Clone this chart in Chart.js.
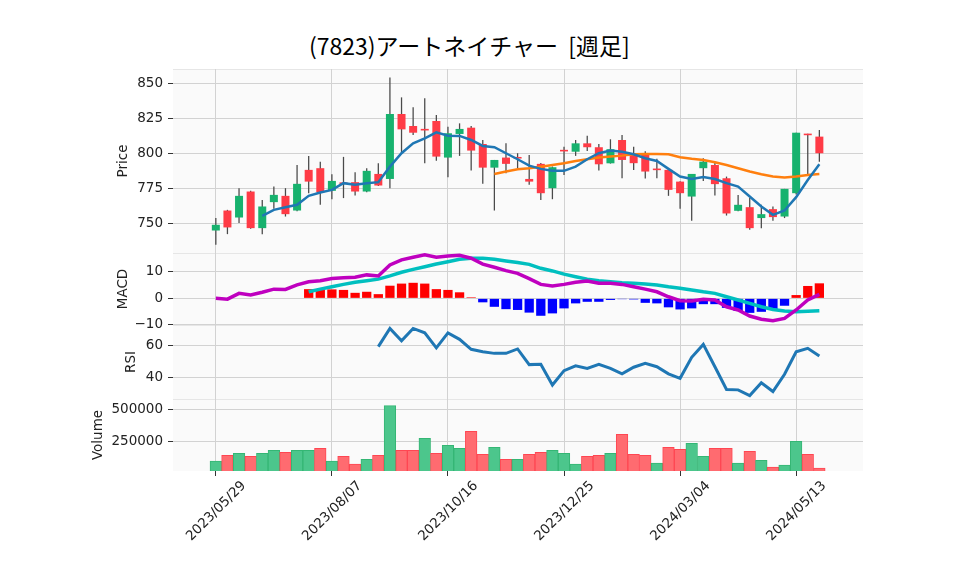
<!DOCTYPE html>
<html lang="ja">
<head>
<meta charset="utf-8">
<title>(7823)アートネイチャー [週足]</title>
<script src="https://cdn.jsdelivr.net/npm/chart.js@4.4.1/dist/chart.umd.min.js"></script>
<style>
  html, body { margin: 0; padding: 0; background: #fff; }
  body { position: relative; width: 958px; height: 575px; overflow: hidden; font-family: "Noto Sans CJK JP", sans-serif; }
  #titulo { position: absolute; left: 309px; top: 30px; line-height: 30px; font-size: 23px; white-space: pre; color: #000; }
</style>
</head>
<body>
<div id="titulo">(7823)アートネイチャー  [週足]</div>
<script>
// semanas (eixo x)
const dates = [
  '2023/05/29', '2023/06/05', '2023/06/12', '2023/06/19', '2023/06/26', '2023/07/03', '2023/07/10',
  '2023/07/17', '2023/07/24', '2023/07/31', '2023/08/07', '2023/08/14', '2023/08/21', '2023/08/28',
  '2023/09/04', '2023/09/11', '2023/09/18', '2023/09/25', '2023/10/02', '2023/10/09', '2023/10/16',
  '2023/10/23', '2023/10/30', '2023/11/06', '2023/11/13', '2023/11/20', '2023/11/27', '2023/12/04',
  '2023/12/11', '2023/12/18', '2023/12/25', '2024/01/01', '2024/01/08', '2024/01/15', '2024/01/22',
  '2024/01/29', '2024/02/05', '2024/02/12', '2024/02/19', '2024/02/26', '2024/03/04', '2024/03/11',
  '2024/03/18', '2024/03/25', '2024/04/01', '2024/04/08', '2024/04/15', '2024/04/22', '2024/04/29',
  '2024/05/06', '2024/05/13', '2024/05/20', '2024/05/27'
];

const opens = [
  744.7, 759.0, 754.0, 772.6, 746.4, 765.0, 769.5, 759.0, 788.1, 789.3,
  773.1, 778.6, 779.3, 772.6, 785.2, 781.6, 828.1, 819.5, 816.9, 823.1,
  796.9, 813.8, 818.3, 806.6, 789.7, 796.9, 796.8, 781.6, 792.4, 775.0,
  802.0, 801.1, 807.1, 804.3, 792.8, 809.5, 798.8, 799.0, 788.3, 788.1,
  779.7, 769.0, 789.3, 791.6, 782.1, 758.8, 761.4, 753.6, 760.0, 754.7,
  771.4, 813.6, 811.9
];
const highs = [
  753.6, 759.5, 775.0, 773.2, 766.6, 776.2, 775.0, 791.6, 798.1, 794.0,
  785.0, 797.4, 786.4, 789.3, 792.9, 854.3, 840.0, 832.9, 839.3, 827.4,
  819.0, 821.4, 819.5, 809.5, 795.2, 807.1, 800.0, 798.8, 793.0, 790.5,
  804.7, 809.5, 812.6, 806.6, 810.0, 813.0, 804.7, 801.5, 796.0, 788.5,
  780.0, 785.2, 796.4, 794.0, 783.3, 770.2, 767.9, 763.1, 761.9, 774.5,
  814.7, 814.0, 816.6
];
const lows = [
  734.5, 742.1, 750.0, 746.0, 742.1, 760.2, 754.7, 758.5, 771.4, 763.1,
  767.1, 767.9, 769.7, 772.0, 776.5, 775.0, 800.0, 813.0, 792.9, 794.7,
  782.9, 798.1, 787.6, 778.1, 759.0, 785.7, 789.3, 777.4, 766.6, 767.1,
  784.5, 798.1, 801.6, 787.6, 792.6, 782.1, 788.0, 782.0, 782.1, 769.5,
  760.2, 751.6, 780.2, 769.7, 755.4, 758.5, 745.2, 746.4, 751.6, 753.6,
  770.5, 784.0, 794.0
];
const closes = [
  748.8, 746.9, 769.5, 746.4, 761.9, 770.2, 756.4, 778.1, 779.7, 772.1,
  780.2, 778.0, 772.6, 787.4, 776.9, 828.1, 817.1, 814.7, 816.3, 797.6,
  814.3, 817.4, 801.9, 789.7, 795.2, 792.4, 796.2, 779.7, 771.4, 790.0,
  801.3, 807.1, 804.3, 792.1, 802.9, 795.2, 792.9, 786.9, 787.9, 773.8,
  771.4, 785.2, 794.0, 777.9, 756.9, 763.1, 746.4, 756.4, 754.3, 774.5,
  814.7, 812.9, 800.0
];

// médias móveis (5 e 25 semanas)
const ma5 = [
  null, null, null, null, 755.2, 759.5, 761.4, 763.1, 769.5, 771.9,
  773.8, 778.6, 777.4, 778.6, 779.3, 790.4, 800.0, 807.1, 810.7, 815.0,
  812.6, 812.4, 809.5, 805.2, 804.3, 800.0, 795.7, 791.1, 788.8, 787.4,
  787.4, 790.4, 795.7, 800.0, 801.9, 801.1, 799.3, 796.4, 794.5, 788.8,
  783.3, 781.6, 782.9, 781.6, 778.6, 776.1, 769.0, 761.9, 755.9, 759.0,
  768.6, 780.9, 792.1
];
const ma25 = [
  null, null, null, null, null, null, null, null, null, null,
  null, null, null, null, null, null, null, null, null, null,
  null, null, null, null, 785.2, 786.9, 788.6, 789.3, 790.4, 791.6,
  792.9, 794.5, 795.7, 796.9, 797.6, 798.3, 799.3, 799.5, 799.5, 799.3,
  797.1, 796.0, 795.2, 793.6, 791.6, 789.3, 786.9, 785.0, 783.3, 782.6,
  783.3, 784.5, 785.2
];

// MACD
const macdLine = [
  0.0, -0.3, 1.9, 1.25, 2.3, 3.5, 3.4, 5.1, 6.3, 6.7,
  7.5, 7.8, 8.0, 8.9, 8.5, 12.7, 14.6, 15.6, 16.5, 15.6,
  16.1, 16.3, 15.2, 13.0, 11.8, 10.5, 9.5, 7.5, 5.3, 4.7,
  5.3, 6.1, 6.6, 5.7, 5.7, 5.3, 4.4, 3.5, 2.5, 0.6,
  -0.9, -1.0, -0.3, -0.6, -3.2, -4.4, -6.7, -7.9, -8.5, -7.6,
  -4.4, -0.6, 1.5
];
const signalLine = [
  null, null, null, null, null, null, null, null, 2.5, 3.5,
  4.4, 5.3, 6.1, 6.7, 7.3, 8.5, 9.9, 11.0, 12.0, 13.0,
  13.9, 14.8, 15.2, 15.2, 14.8, 14.2, 13.6, 12.9, 11.4, 10.4,
  9.2, 8.2, 7.3, 6.7, 6.3, 5.9, 5.7, 5.4, 5.1, 4.4,
  3.8, 3.2, 2.5, 1.9, 0.6, -0.6, -1.9, -3.2, -4.2, -4.8,
  -5.1, -4.9, -4.7
];
const histogram = [
  null, null, null, null, null, null, null, null, 3.5, 3.2,
  3.4, 3.2, 2.1, 2.5, 1.6, 4.8, 5.6, 5.9, 5.6, 3.5,
  3.2, 2.3, 0.4, -1.5, -3.2, -4.1, -4.4, -5.4, -6.6, -5.7,
  -3.8, -1.9, -1.3, -1.3, -0.6, -0.3, -0.4, -1.7, -1.9, -3.4,
  -4.2, -3.8, -2.2, -2.2, -3.6, -4.8, -5.5, -5.1, -4.4, -2.8,
  1.25, 4.7, 5.7
];

const rsi = [
  null, null, null, null, null, null, null, null, null, null,
  null, null, null, null, 59.0, 70.2, 62.6, 70.2, 67.5, 58.3,
  67.5, 63.5, 57.4, 55.9, 54.9, 54.9, 57.6, 48.0, 48.2, 35.5,
  44.3, 47.3, 45.7, 48.2, 45.7, 42.3, 46.4, 48.8, 46.7, 42.3,
  39.6, 52.5, 60.4, 46.7, 32.7, 32.5, 29.0, 36.9, 31.5, 42.1,
  55.9, 58.0, 53.3
];

const volumes = [
  88400, 136200, 152100, 128200, 152100, 176000, 160000, 176000, 176000, 191900,
  88400, 128200, 64500, 104300, 136200, 534200, 176000, 176000, 271900, 152100,
  215700, 191900, 327200, 144100, 199800, 104300, 104300, 144100, 160000, 176000,
  152100, 64500, 128200, 136200, 152100, 303300, 144100, 136200, 72400, 199800,
  184000, 231800, 128200, 191900, 191900, 72400, 168000, 96300, 40600, 56500,
  247600, 144100, 32500
];

const xTicks = [0, 10, 20, 30, 40, 50];
const priceTicks = [750, 775, 800, 825, 850];
const macdTicks = [-10, 0, 10];
const rsiTicks = [40, 60];
const volumeTicks = [250000, 500000];

// geometria dos painéis
const L = 173, R = 863;
const X_MIN = -3.69, X_MAX = 55.76;
const painelPreco = { top: 69, bottom: 253, tituloX: 123.3, min: 728.6, max: 860.3 };
const painelMacd = { top: 253, bottom: 325, tituloX: 123.3, min: -10.1, max: 17.2 };
const painelRsi = { top: 325, bottom: 399, tituloX: 130.8, min: 26.9, max: 72.3 };
const painelVolume = { top: 399, bottom: 471, tituloX: 98, min: 9750, max: 587600 };

const corGrade = '#d2d2d2';
const corTexto = '#222';
const fonte = { family: '"DejaVu Sans", sans-serif', size: 13.5 };

Chart.defaults.font.family = fonte.family;
Chart.defaults.color = corTexto;

const pontos = arr => arr.map((v, i) => ({ x: i, y: v }));

const fundoPainel = {
  id: 'fundoPainel',
  beforeDraw(chart) {
    const { ctx, chartArea: a } = chart;
    ctx.save();
    ctx.fillStyle = '#fafafa';
    ctx.fillRect(a.left, a.top, a.right - a.left, a.bottom - a.top);
    ctx.strokeStyle = '#e6e6e6';
    ctx.lineWidth = 1;
    ctx.beginPath();
    ctx.moveTo(a.left, a.top + 0.5);
    ctx.lineTo(a.right, a.top + 0.5);
    ctx.stroke();
    ctx.restore();
  }
};

function criarPainel(painel, titulo, ticksY, formatar, datasets, comEixoX) {
  const pad = 12;
  const left = Math.round(painel.tituloX - fonte.size * 0.6);
  const alturaEixoX = comEixoX ? 95 : 0;
  const canvas = document.createElement('canvas');
  canvas.width = R - left;
  canvas.height = painel.bottom - painel.top + pad + (comEixoX ? alturaEixoX : pad);
  canvas.style.position = 'absolute';
  canvas.style.left = left + 'px';
  canvas.style.top = (painel.top - pad) + 'px';
  canvas.style.width = canvas.width + 'px';
  canvas.style.height = canvas.height + 'px';
  document.body.appendChild(canvas);

  return new Chart(canvas.getContext('2d'), {
    type: 'bar',
    data: { datasets: datasets },
    options: {
      responsive: false,
      animation: false,
      events: [],
      layout: { padding: { top: pad, bottom: comEixoX ? 0 : pad, left: 0, right: 0 } },
      plugins: { legend: { display: false }, tooltip: { enabled: false } },
      scales: {
        x: {
          type: 'linear',
          min: X_MIN,
          max: X_MAX,
          offset: false,
          afterBuildTicks: s => { s.ticks = xTicks.map(v => ({ value: v })); },
          afterFit: s => { s.height = alturaEixoX; s.paddingLeft = 0; s.paddingRight = 0; },
          border: { display: false },
          grid: { offset: false, color: corGrade, lineWidth: 1, drawTicks: comEixoX, tickLength: 5, tickColor: '#333' },
          ticks: {
            display: comEixoX,
            autoSkip: false,
            minRotation: 45,
            maxRotation: 45,
            labelOffset: 28,
            padding: 2,
            color: corTexto,
            font: fonte,
            callback: v => dates[v]
          }
        },
        y: {
          position: 'left',
          min: painel.min,
          max: painel.max,
          afterBuildTicks: s => { s.ticks = ticksY.map(v => ({ value: v })); },
          afterFit: s => { s.width = L - left; s.paddingTop = 0; s.paddingBottom = 0; },
          border: { display: false },
          grid: { color: corGrade, lineWidth: 1, tickLength: 5, tickColor: '#333' },
          ticks: { color: corTexto, font: fonte, padding: 5, callback: formatar },
          title: { display: true, text: titulo, color: corTexto, font: fonte, padding: 0 }
        }
      }
    },
    plugins: [fundoPainel]
  });
}

const sobe = '#17b26e', desce = '#ff3b46';
const velas = dates.map((d, i) => ({ x: i, y: [opens[i], closes[i]] }));
const pavios = dates.map((d, i) => ({ x: i, y: [lows[i], highs[i]] }));

criarPainel(painelPreco, 'Price', priceTicks, v => String(v), [
  { type: 'line', data: pontos(ma5), borderColor: '#1f77b4', borderWidth: 2.5, pointRadius: 0, order: 0 },
  { type: 'line', data: pontos(ma25), borderColor: '#ff7f0e', borderWidth: 2.5, pointRadius: 0, order: 0 },
  {
    data: velas, grouped: false, categoryPercentage: 1, barPercentage: 0.69, minBarLength: 1.6, order: 1,
    backgroundColor: c => closes[c.dataIndex] > opens[c.dataIndex] ? sobe : desce
  },
  { data: pavios, grouped: false, categoryPercentage: 1, barPercentage: 0.11, backgroundColor: '#4a4a4a', order: 2 }
], false);

criarPainel(painelMacd, 'MACD', macdTicks, v => v < 0 ? '\u2212' + Math.abs(v) : String(v), [
  { type: 'line', data: pontos(macdLine), borderColor: '#bf00bf', borderWidth: 3.5, pointRadius: 0, order: 0 },
  { type: 'line', data: pontos(signalLine), borderColor: '#00bfbf', borderWidth: 3.5, pointRadius: 0, order: 0 },
  {
    data: pontos(histogram), grouped: false, categoryPercentage: 1, barPercentage: 0.8, order: 1,
    backgroundColor: c => (c.raw && c.raw.y < 0) ? '#0000ff' : '#ff0000'
  }
], false);

criarPainel(painelRsi, 'RSI', rsiTicks, v => String(v), [
  { type: 'line', data: pontos(rsi), borderColor: '#1f77b4', borderWidth: 3, pointRadius: 0 }
], false);

// cor do volume: fechamento contra o fechamento anterior
const volumeSobe = i => i === 0 || closes[i] >= closes[i - 1];
criarPainel(painelVolume, 'Volume', volumeTicks, v => String(v), [
  {
    data: pontos(volumes), grouped: false, categoryPercentage: 1, barPercentage: 1, borderWidth: 1,
    backgroundColor: c => volumeSobe(c.dataIndex) ? '#4cc68c' : '#ff6b70',
    borderColor: c => volumeSobe(c.dataIndex) ? '#34b674' : '#ff4652'
  }
], true);
</script>
</body>
</html>
